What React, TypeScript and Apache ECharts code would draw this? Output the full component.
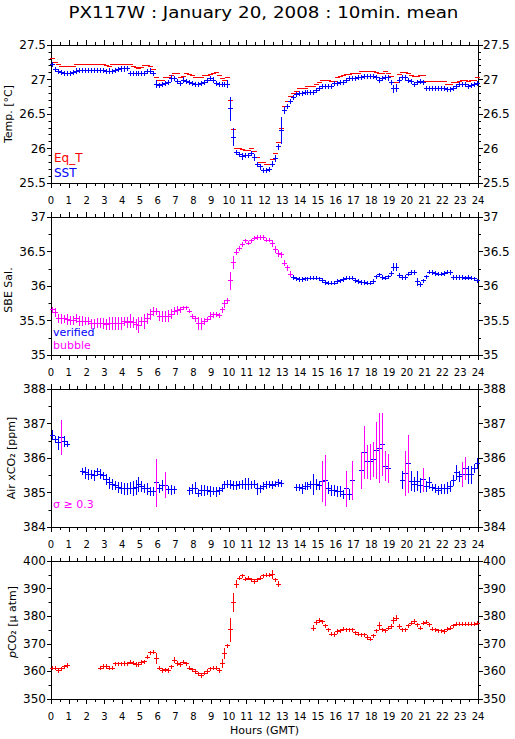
import React, { useEffect, useRef } from 'react';
import * as echarts from 'echarts';

// 10-minute means, index i covers hour i/6 .. (i+1)/6 (GMT)
const eqT = [
  27.31, 27.25, 27.22, 27.20, 27.19, 27.19,
  27.19, 27.20, 27.22, 27.22, 27.22, 27.22,
  27.22, 27.22, 27.22, 27.22, 27.23, 27.22,
  27.21, 27.20, 27.22, 27.22, 27.22, 27.22,
  27.23, 27.23, 27.22, 27.20, 27.18, 27.17,
  27.18, 27.21, 27.21, 27.19, 27.15, 27.04,
  26.99, 26.99, 27.03, 27.03, 27.07, 27.10,
  27.09, 27.04, 27.05, 27.09, 27.08, 27.06,
  27.04, 27.03, 27.04, 27.06, 27.07, 27.08,
  27.10, 27.11, 27.07, 27.02, 27.00, 27.03,
  26.71, 26.28, 26.01, 26.01, 25.99, 25.98,
  25.98, 26.01, 25.96, 25.87, 25.81, 25.81,
  25.78, 25.78, 25.85, 25.94, 26.10, 26.30,
  26.62, 26.69, 26.76, 26.80, 26.83, 26.87,
  26.88, 26.88, 26.91, 26.91, 26.91, 26.94,
  26.97, 27.00, 27.00, 27.00, 26.98, 26.98,
  27.04, 27.05, 27.06, 27.08, 27.08, 27.09,
  27.10, 27.10, 27.13, 27.13, 27.13, 27.13,
  27.13, 27.11, 27.09, 27.10, 27.12, 27.09,
  27.05, 26.96, 26.96, 27.08, 27.11, 27.11,
  27.09, 27.07, 27.05, 27.05, 27.07, 27.06,
  26.98, 26.98, 26.98, 26.98, 26.98, 26.98,
  26.98, 26.94, 26.94, 26.97, 26.97, 26.98,
  27.00, 27.00, 26.98, 26.99, 27.00, 27.03,
];

const sst = [
  27.23, 27.15, 27.12, 27.11, 27.10, 27.10,
  27.10, 27.11, 27.13, 27.14, 27.14, 27.14,
  27.14, 27.14, 27.14, 27.14, 27.14, 27.14,
  27.12, 27.13, 27.12, 27.14, 27.15, 27.16,
  27.16, 27.17, 27.10, 27.10, 27.10, 27.10,
  27.09, 27.10, 27.12, 27.13, 27.09, 26.94,
  26.92, 26.93, 26.95, 26.96, 27.02, 27.02,
  26.98, 26.95, 27.00, 26.98, 26.96, 26.95,
  26.94, 26.94, 26.95, 26.97, 26.99, 27.02,
  27.00, 26.95, 26.93, 26.94, 26.94, 26.94,
  26.58, 26.17, 25.95, 25.92, 25.89, 25.91,
  25.90, 25.94, 25.88, 25.78, 25.74, 25.69,
  25.69, 25.70, 25.78, 25.86, 26.03, 26.27,
  26.56, 26.62, 26.69, 26.75, 26.79, 26.81,
  26.81, 26.82, 26.82, 26.82, 26.82, 26.85,
  26.88, 26.90, 26.91, 26.91, 26.91, 26.95,
  26.95, 26.96, 26.97, 26.99, 27.02, 27.02,
  27.02, 27.04, 27.04, 27.05, 27.05, 27.05,
  27.05, 27.04, 27.00, 27.02, 27.04, 27.03,
  26.97, 26.87, 26.88, 27.00, 27.04, 27.03,
  26.99, 26.98, 26.94, 26.96, 26.98, 26.96,
  26.88, 26.88, 26.88, 26.88, 26.88, 26.88,
  26.88, 26.86, 26.86, 26.88, 26.90, 26.93,
  26.93, 26.93, 26.91, 26.92, 26.94, 26.95,
];

const sstErr = [
  .03, .03, .03, .03, .03, .03,
  .03, .03, .03, .03, .03, .03,
  .03, .03, .03, .03, .03, .03,
  .03, .03, .03, .03, .03, .03,
  .03, .03, .03, .03, .03, .03,
  .03, .03, .03, .03, .03, .05,
  .03, .03, .03, .03, .04, .03,
  .03, .03, .03, .03, .03, .03,
  .03, .03, .03, .03, .03, .03,
  .03, .03, .03, .03, .03, .055,
  .16, .12, .03, .03, .04, .03,
  .03, .03, .04, .03, .03, .03,
  .03, .03, .04, .04, .04, .19,
  .04, .03, .03, .03, .03, .03,
  .03, .03, .03, .03, .03, .03,
  .03, .03, .03, .03, .03, .03,
  .03, .03, .03, .03, .03, .03,
  .03, .03, .03, .03, .03, .03,
  .03, .03, .03, .03, .03, .03,
  .03, .05, .05, .03, .03, .03,
  .03, .03, .03, .03, .03, .03,
  .03, .03, .03, .03, .03, .03,
  .03, .03, .03, .03, .03, .03,
  .03, .03, .03, .03, .03, .03,
];

const sal = [
  35.66, 35.62, 35.54, 35.53, 35.53, 35.52,
  35.51, 35.51, 35.53, 35.50, 35.50, 35.50,
  35.50, 35.46, 35.46, 35.47, 35.47, 35.46,
  35.45, 35.46, 35.46, 35.46, 35.46, 35.46,
  35.49, 35.48, 35.50, 35.48, 35.45, 35.44,
  35.49, 35.49, 35.54, 35.59, 35.64, 35.64,
  35.57, 35.57, 35.57, 35.57, 35.60, 35.64,
  35.65, 35.66, 35.69, 35.69, 35.64, 35.57,
  35.53, 35.46, 35.46, 35.49, 35.52, 35.57,
  35.59, 35.59, 35.58, 35.66, 35.75, 35.79,
  36.08, 36.35, 36.50, 36.55, 36.61, 36.66,
  36.63, 36.66, 36.70, 36.71, 36.71, 36.71,
  36.67, 36.67, 36.62, 36.54, 36.48, 36.46,
  36.34, 36.27, 36.18, 36.13, 36.11, 36.10,
  36.10, 36.11, 36.11, 36.12, 36.12, 36.12,
  36.11, 36.09, 36.06, 36.05, 36.05, 36.05,
  36.07, 36.08, 36.10, 36.12, 36.12, 36.12,
  36.09, 36.07, 36.06, 36.06, 36.05, 36.05,
  36.07, 36.14, 36.17, 36.13, 36.12, 36.14,
  36.19, 36.28, 36.28, 36.16, 36.13, 36.13,
  36.18, 36.20, 36.20, 36.07, 36.03, 36.08,
  36.14, 36.21, 36.20, 36.19, 36.18, 36.18,
  36.19, 36.21, 36.20, 36.13, 36.13, 36.13,
  36.13, 36.12, 36.13, 36.12, 36.11, 36.08,
];

const salErr = [
  .04, .055, .058, .065, .053, .067,
  .06, .06, .058, .058, .058, .053,
  .053, .067, .062, .067, .067, .072,
  .072, .089, .084, .089, .089, .089,
  .06, .067, .09, .077, .072, .113,
  .06, .1, .072, .072, .06, .043,
  .067, .072, .072, .08, .06, .053,
  .053, .036, .024, .024, .024, .03,
  .03, .085, .077, .043, .024, .048,
  .04, .031, .031, .04, .048, .036,
  .13, .084, .036, .025, .025, .025,
  .025, .025, .025, .025, .025, .025,
  .025, .025, .04, .04, .04, .04,
  .04, .04, .04, .025, .025, .025,
  .025, .025, .025, .025, .025, .025,
  .025, .025, .025, .025, .025, .025,
  .025, .025, .025, .025, .025, .025,
  .025, .025, .025, .025, .025, .025,
  .025, .025, .025, .025, .025, .025,
  .025, .05, .05, .025, .025, .025,
  .025, .025, .025, .05, .025, .025,
  .025, .025, .025, .025, .025, .025,
  .025, .025, .025, .025, .025, .025,
  .025, .025, .025, .025, .025, .025,
];
const BUBBLE_END_HOUR = 13.5; // salinity flagged "bubble" before this hour

const airCO2 = [
  386.68, 386.55, 386.45, 386.61, 386.50, 386.42,
  null, null, null, null, 385.63, 385.58,
  385.53, 385.53, 385.51, 385.61, 385.55, 385.50,
  385.39, 385.29, 385.24, 385.22, 385.16, 385.14,
  385.12, 385.12, 385.14, 385.14, 385.16, 385.24,
  385.19, 385.14, 385.12, 385.05, 385.05, 385.29,
  385.14, 385.22, 385.22, 385.09, 385.09, 385.09,
  null, null, null, null, 385.07, 385.12,
  385.14, 385.00, 385.07, 385.08, 385.08, 385.05,
  385.05, 385.03, 385.07, 385.14, 385.24, 385.26,
  385.24, 385.22, 385.22, 385.24, 385.24, 385.26,
  385.26, 385.24, 385.26, 385.12, 385.12, 385.19,
  385.24, 385.24, 385.22, 385.26, 385.29, 385.28,
  null, null, null, null, 385.16, 385.16,
  385.12, 385.19, 385.19, 385.24, 385.26, 385.24,
  385.22, 385.34, 385.36, 385.14, 385.07, 385.07,
  385.05, 385.05, 384.95, 385.12, 384.95, 385.36,
  null, null, 385.65, 386.18, 385.90, 385.90,
  385.97, 386.23, 386.30, 386.40, 385.77, 385.70,
  null, null, null, null, 385.37, 385.56,
  385.85, 385.34, 385.24, 385.34, 385.22, 385.38,
  385.19, 385.29, 385.16, 385.14, 385.08, 385.12,
  385.12, 385.14, 385.19, 385.37, 385.60, 385.48,
  385.53, 385.70, 385.53, 385.53, 385.70, 385.85,
];

const airErr = [
  .12, .10, .20, .49, .15, .08,
  0, 0, 0, 0, .08, .15,
  .15, .12, .15, .10, .12, .10,
  .15, .15, .15, .12, .15, .15,
  .15, .15, .15, .20, .20, .20,
  .15, .12, .15, .12, .12, .68,
  .12, .15, .36, .10, .12, .10,
  0, 0, 0, 0, .10, .12,
  .15, .10, .15, .15, .12, .15,
  .10, .12, .10, .10, .10, .10,
  .12, .12, .12, .10, .12, .17,
  .15, .10, .10, .15, .10, .10,
  .10, .08, .10, .08, .10, .08,
  0, 0, 0, 0, .10, .10,
  .12, .10, .10, .10, .29, .15,
  .12, .58, .73, .15, .15, .15,
  .15, .15, .12, .50, .15, .55,
  0, 0, .52, .75, .48, .52,
  .50, .80, 1.0, .90, .42, .41,
  0, 0, 0, 0, .25, .63,
  .83, .27, .20, .27, .20, .34,
  .15, .15, .10, .12, .12, .12,
  .12, .15, .15, .15, .20, .15,
  .34, .32, .25, .25, .12, .15,
];
const SIGMA_LIMIT = 0.3;

const pCO2 = [
  361.4, 361.4, 360.5, 361.1, 361.9, 362.3,
  null, null, null, null, null, null,
  null, null, null, null, 361.4, 362.0,
  362.0, 361.4, 361.4, 362.9, 362.9, 362.9,
  363.1, 362.9, 363.5, 363.2, 362.7, 362.7,
  363.4, 363.7, 365.3, 366.9, 367.1, 364.7,
  361.4, 360.5, 360.7, 360.5, 361.9, 364.3,
  363.1, 362.7, 363.5, 362.9, 361.4, 360.7,
  360.1, 359.3, 358.7, 359.5, 360.2, 361.1,
  361.4, 361.3, 360.5, 363.1, 366.5, 369.5,
  375.2, 385.2, 391.8, 394.0, 394.8, 393.6,
  394.0, 393.4, 392.8, 393.3, 394.0, 394.8,
  395.1, 395.1, 395.4, 393.4, 391.8, null,
  null, null, null, null, null, null,
  null, null, null, null, 375.9, 378.0,
  378.6, 378.2, 376.7, 375.2, 373.7, 373.5,
  374.6, 374.9, 375.5, 375.2, 375.2, 375.2,
  374.1, 373.7, 373.4, 373.4, 372.5, 371.9,
  373.1, 374.9, 376.7, 375.2, 374.9, 375.9,
  376.4, 378.6, 379.5, 376.4, 375.2, 375.2,
  376.7, 377.6, 378.3, 377.0, 375.9, 377.7,
  378.0, 377.0, 375.5, 375.2, 374.9, 374.9,
  374.6, 375.5, 375.9, 376.7, 377.3, 377.3,
  377.3, 377.3, 377.3, 377.3, 377.3, 377.6,
];

const pco2Err = [
  .6, .6, .6, .6, .6, .6,
  0, 0, 0, 0, 0, 0,
  0, 0, 0, 0, .6, .6,
  .6, .6, .6, .6, .6, .6,
  .6, .6, .6, .6, .6, .6,
  .6, .6, .6, .6, .6, 1.8,
  .6, .6, .6, .6, .6, .8,
  .6, .6, .6, .6, .6, .6,
  .6, .6, .6, .6, .6, .6,
  .6, .6, .6, 1.5, 1.8, .5,
  4.2, 3.2, 1.2, .6, .6, .6,
  .6, .6, .6, .6, .6, .6,
  .6, .6, 1.4, .6, 1.0, 0,
  0, 0, 0, 0, 0, 0,
  0, 0, 0, 0, .8, .8,
  .6, .6, .6, .6, .6, .6,
  .6, .6, .6, .6, .6, .6,
  .6, .6, .6, .6, .6, .6,
  .6, .6, 1.2, .6, .6, .6,
  .6, 1.0, .8, .6, .6, .6,
  .6, .6, .6, .6, .6, .6,
  .6, .6, .6, .6, .6, .6,
  .6, .6, .6, .6, .6, .6,
  .6, .6, .6, .6, .6, .6,
];

const panels = [
  { min: 25.5, max: 27.5, interval: 0.5, minor: 5 },
  { min: 35, max: 37, interval: 0.5, minor: 2 },
  { min: 384, max: 388, interval: 1, minor: 2 },
  { min: 350, max: 400, interval: 10, minor: 2 },
];

const RED = '#ff0000';
const BLUE = '#0000ff';
const MAGENTA = '#ff00ff';
const FONT = 'DejaVu Sans';
const GRID_LEFT = 51;
const GRID_W = 427;
const GRID_TOPS = [45, 217, 389, 561];
const GRID_H = 138;

function items(values: (number | null)[], errs: number[] | null, keep?: (t: number) => boolean) {
  const out: number[][] = [];
  values.forEach((v, i) => {
    if (v === null || v === undefined) return;
    const t = (i + 0.5) / 6;
    if (keep && !keep(t)) return;
    out.push([t, v, errs ? errs[i] : 0]);
  });
  return out;
}

function crossRenderer(hColor: string, vColor: (e: number) => string) {
  return (_params: any, api: any) => {
    const t = api.value(0);
    const v = api.value(1);
    const e = api.value(2);
    const c = api.coord([t, v]);
    const xc = Math.round(c[0]);
    const y = Math.round(c[1]) + 0.5;
    const children: any[] = [
      {
        type: 'line',
        shape: { x1: xc - 2, y1: y, x2: xc + 3, y2: y },
        style: { stroke: hColor, lineWidth: 1 },
      },
    ];
    if (e > 0) {
      const top = api.coord([t, v + e]);
      const bot = api.coord([t, v - e]);
      children.push({
        type: 'line',
        shape: { x1: xc + 0.5, y1: Math.round(top[1]), x2: xc + 0.5, y2: Math.round(bot[1]) + 1 },
        style: { stroke: vColor(e), lineWidth: 1 },
      });
    }
    return { type: 'group', children };
  };
}

function customSeries(k: number, data: number[][], hColor: string, vColor: (e: number) => string) {
  return {
    type: 'custom',
    coordinateSystem: 'cartesian2d',
    xAxisIndex: 2 * k,
    yAxisIndex: 2 * k,
    silent: true,
    clip: false,
    encode: { x: 0, y: 1 },
    renderItem: crossRenderer(hColor, vColor),
    data,
  };
}

const black = { color: '#000', width: 1 };

function buildOption() {
  const grid = GRID_TOPS.map((top) => ({ left: GRID_LEFT, top, width: GRID_W, height: GRID_H, show: false }));
  const xAxis: any[] = [];
  const yAxis: any[] = [];
  panels.forEach((p, k) => {
    ['bottom', 'top'].forEach((pos) => {
      xAxis.push({
        type: 'value', gridIndex: k, position: pos, min: 0, max: 24, interval: 1,
        axisLine: { show: true, onZero: false, lineStyle: black },
        axisTick: { show: true, inside: false, length: 5, lineStyle: black },
        minorTick: { show: true, splitNumber: 2, length: 3, lineStyle: black },
        splitLine: { show: false }, minorSplitLine: { show: false },
        axisLabel: {
          show: pos === 'bottom', margin: 12, color: '#000', fontSize: 10, fontFamily: FONT,
          showMinLabel: true, showMaxLabel: true,
        },
      });
    });
    ['left', 'right'].forEach((pos) => {
      yAxis.push({
        type: 'value', gridIndex: k, position: pos, min: p.min, max: p.max, interval: p.interval,
        axisLine: { show: true, onZero: false, lineStyle: black },
        axisTick: { show: true, inside: false, length: pos === 'left' ? 4 : 5, lineStyle: black },
        minorTick: { show: true, splitNumber: p.minor, length: pos === 'left' ? 2.5 : 3, lineStyle: black },
        splitLine: { show: false }, minorSplitLine: { show: false },
        axisLabel: {
          show: true, margin: 5, color: '#000', fontSize: 12, fontFamily: FONT,
          showMinLabel: true, showMaxLabel: true,
        },
      });
    });
  });

  const series = [
    customSeries(0, items(eqT, null), RED, () => RED),
    customSeries(0, items(sst, sstErr), BLUE, () => BLUE),
    customSeries(1, items(sal, salErr, (t) => t >= BUBBLE_END_HOUR), BLUE, () => BLUE),
    customSeries(1, items(sal, salErr, (t) => t < BUBBLE_END_HOUR), MAGENTA, () => MAGENTA),
    customSeries(2, items(airCO2, airErr), BLUE, (e) => (e >= SIGMA_LIMIT ? MAGENTA : BLUE)),
    customSeries(3, items(pCO2, pco2Err), RED, () => RED),
  ];

  const txt = (text: string, x: number, y: number, size: number, fill: string, align = 'left', extra: any = {}) => ({
    type: 'text', x, y, silent: true, ...extra,
    style: {
      text, x: 0, y: 0, fill, font: `${size}px "${FONT}"`,
      align, textAlign: align, verticalAlign: 'middle', textVerticalAlign: 'middle',
    },
  });
  const rot = { rotation: Math.PI / 2 };

  const graphic = [
    txt('PX117W : January 20, 2008 : 10min. mean', 263.5, 13, 15, '#000', 'center', { scaleX: 1.22 }),
    txt('Temp. [°C]', 8, 114, 11, '#000', 'center', rot),
    txt('SBE Sal.', 8, 290, 11, '#000', 'center', rot),
    txt('Air xCO₂ [ppm]', 11, 458, 11, '#000', 'center', rot),
    {
      type: 'text', x: 12, y: 622, silent: true, rotation: Math.PI / 2,
      style: {
        text: '{i|p}{n|CO₂ [μ atm]}', x: 0, y: 0, fill: '#000',
        align: 'center', textAlign: 'center', verticalAlign: 'middle', textVerticalAlign: 'middle',
        font: `11px "${FONT}"`,
        rich: {
          i: { fontStyle: 'italic', fontSize: 11, fontFamily: FONT, fill: '#000' },
          n: { fontSize: 11, fontFamily: FONT, fill: '#000' },
        },
      },
    },
    txt('Eq_T', 54, 158, 12, RED),
    txt('SST', 54, 173, 12, BLUE),
    txt('verified', 53, 332, 11, BLUE),
    txt('bubble', 53, 345, 11, MAGENTA),
    txt('σ ≥ 0.3', 53, 504, 11, MAGENTA),
    txt('Hours (GMT)', 264.5, 730, 11, '#000', 'center'),
  ];

  return { animation: false, backgroundColor: '#ffffff', grid, xAxis, yAxis, series, graphic };
}

export default function App() {
  const ref = useRef<HTMLDivElement>(null);
  useEffect(() => {
    if (!ref.current) return;
    const chart = echarts.init(ref.current, undefined, { renderer: 'svg' });
    chart.setOption(buildOption() as any);
    return () => chart.dispose();
  }, []);
  return (
    <div
      ref={ref}
      style={{ position: 'absolute', left: 0, top: 0, width: 515, height: 739, background: '#fff' }}
    />
  );
}
